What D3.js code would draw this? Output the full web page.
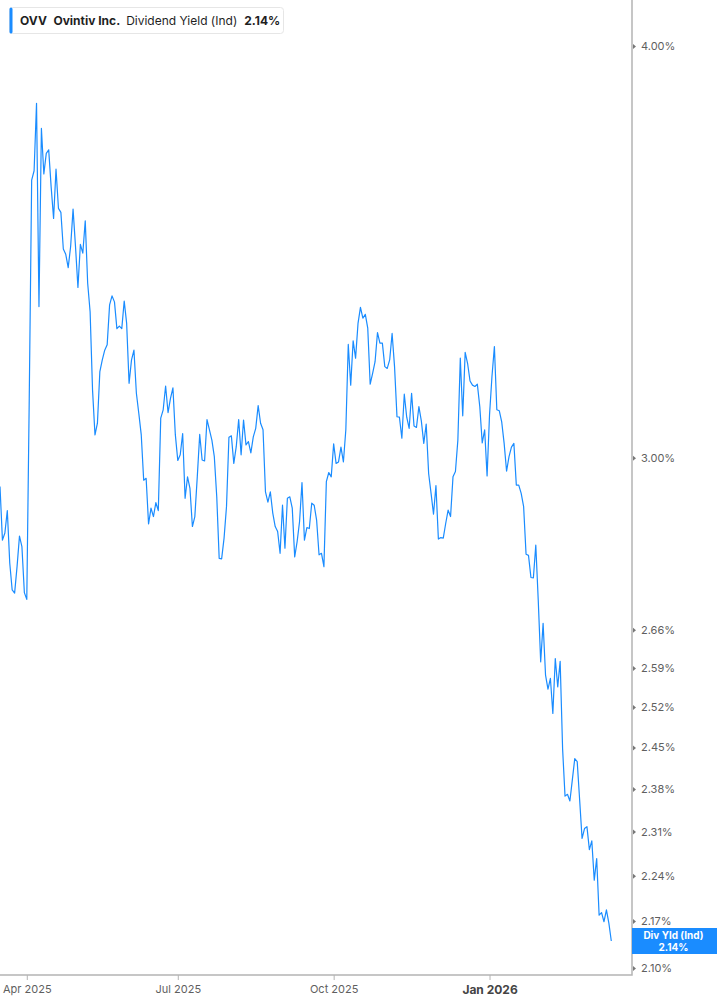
<!DOCTYPE html>
<html lang="en">
<head>
  <meta charset="UTF-8">
  <title>OVV Dividend Yield (Ind)</title>
  <script src="https://d3js.org/d3.v7.min.js"></script>
  <style>
    body { margin: 0; background: #fff; font-family: Inter, "Noto Sans", sans-serif; }
    .axis text { font-family: Inter, "Noto Sans", sans-serif; font-size: 11px; fill: #5f5f5f; }
  </style>
</head>
<body>
<div id="chart"></div>
<script>
  // trading calendar: weekdays from the first date, minus market holidays
  var START_DATE = "2025-03-17";
  var HOLIDAYS = ["2025-04-18", "2025-05-26", "2025-06-19", "2025-07-04", "2025-09-01",
    "2025-11-27", "2025-12-25", "2026-01-01", "2026-01-19", "2026-02-16"];

  // dividend yield (indicated), %, one value per trading day
  var yieldValues = [
    2.940, 2.832, 2.846, 2.891, 2.787, 2.735, 2.729, 2.780, 2.840, 2.819,
    2.730, 2.717, 3.123, 3.642, 3.666, 3.843, 3.334, 3.776, 3.658, 3.711,
    3.720, 3.625, 3.546, 3.670, 3.571, 3.561, 3.471, 3.458, 3.426, 3.477,
    3.569, 3.477, 3.379, 3.482, 3.461, 3.540, 3.389, 3.322, 3.145, 3.048,
    3.073, 3.186, 3.212, 3.234, 3.246, 3.338, 3.359, 3.345, 3.283, 3.289,
    3.283, 3.347, 3.295, 3.160, 3.212, 3.234, 3.138, 3.094, 3.048, 2.953,
    2.957, 2.864, 2.896, 2.879, 2.907, 2.891, 3.084, 3.102, 3.154, 3.096,
    3.127, 3.150, 3.048, 2.994, 3.006, 3.051, 2.916, 2.960, 2.936, 2.859,
    2.879, 2.960, 3.049, 2.995, 2.993, 3.081, 3.059, 3.037, 3.002, 2.919,
    2.796, 2.795, 2.836, 2.899, 3.043, 3.046, 2.988, 3.023, 3.081, 3.006,
    3.080, 3.027, 3.034, 3.010, 3.044, 3.062, 3.111, 3.073, 3.059, 2.929,
    2.908, 2.929, 2.886, 2.859, 2.849, 2.806, 2.902, 2.816, 2.916, 2.919,
    2.896, 2.799, 2.829, 2.869, 2.948, 2.832, 2.857, 2.855, 2.906, 2.902,
    2.872, 2.803, 2.806, 2.780, 2.950, 2.969, 2.960, 3.029, 2.988, 2.991,
    3.022, 2.991, 3.059, 3.247, 3.156, 3.255, 3.216, 3.295, 3.332, 3.307,
    3.316, 3.284, 3.158, 3.182, 3.208, 3.274, 3.250, 3.250, 3.197, 3.193,
    3.212, 3.272, 3.197, 3.087, 3.086, 3.041, 3.136, 3.086, 3.062, 3.138,
    3.067, 3.064, 3.109, 3.078, 3.030, 3.071, 2.967, 2.926, 2.884, 2.942,
    2.834, 2.837, 2.836, 2.865, 2.892, 2.879, 2.960, 2.971, 3.037, 3.216,
    3.089, 3.229, 3.204, 3.165, 3.156, 3.153, 3.158, 3.109, 3.031, 3.059,
    2.962, 3.091, 3.175, 3.242, 3.102, 3.100, 3.076, 3.030, 2.972, 3.002,
    3.022, 3.030, 2.943, 2.943, 2.926, 2.899, 2.804, 2.802, 2.759, 2.758,
    2.822, 2.716, 2.601, 2.672, 2.577, 2.552, 2.571, 2.509, 2.607, 2.556,
    2.602, 2.448, 2.368, 2.371, 2.360, 2.395, 2.431, 2.426, 2.362, 2.299,
    2.315, 2.318, 2.281, 2.295, 2.233, 2.267, 2.179, 2.183, 2.169, 2.187,
    2.167, 2.140
  ];

  var yTicks = [2.10, 2.17, 2.24, 2.31, 2.38, 2.45, 2.52, 2.59, 2.66, 3.00, 4.00];
  var xTickDates = ["2025-04-01", "2025-07-01", "2025-10-01", "2026-01-02"];
  var xTickLabels = ["Apr 2025", "Jul 2025", "Oct 2025", "Jan 2026"];

  var TICKER = "OVV", COMPANY = "Ovintiv Inc.", METRIC = "Dividend Yield (Ind)", METRIC_SHORT = "Div Yld (Ind)";

  var WIDTH = 717, HEIGHT = 1005,
    PLOT_W = 632, PLOT_H = 975,
    BLUE = "#1a8cff", AXIS = "#b4b4b4";

  var parseDate = d3.timeParse("%Y-%m-%d"),
    fmtDate = d3.timeFormat("%Y-%m-%d");

  var tradingDays = [];
  var day = parseDate(START_DATE);
  while (tradingDays.length < yieldValues.length) {
    var wd = day.getDay();
    if (wd !== 0 && wd !== 6 && HOLIDAYS.indexOf(fmtDate(day)) === -1) {
      tradingDays.push(fmtDate(day));
    }
    day = d3.timeDay.offset(day, 1);
  }

  var data = yieldValues.map(function (v, i) {
    return {date: tradingDays[i], i: i, value: v};
  });
  var last = data[data.length - 1];
  var fmtPct = function (v) { return v.toFixed(2) + "%"; };

  var xScale = d3.scaleLinear()
    .domain([0, data.length - 1 + 8.5])
    .range([0, PLOT_W]);
  var yScale = d3.scaleLog()
    .domain([2.10, 4.00])
    .range([968, 46]);

  var svg = d3.select("#chart").append("svg")
    .attr("width", WIDTH)
    .attr("height", HEIGHT);

  svg.append("clipPath").attr("id", "plotClip")
    .append("rect").attr("x", 0).attr("y", 0).attr("width", PLOT_W).attr("height", PLOT_H);

  // line
  var line = d3.line()
    .x(function (d) { return xScale(d.i); })
    .y(function (d) { return yScale(d.value); });

  svg.append("path")
    .datum(data)
    .attr("clip-path", "url(#plotClip)")
    .attr("fill", "none")
    .attr("stroke", BLUE)
    .attr("stroke-width", 1.2)
    .attr("stroke-linejoin", "round")
    .attr("d", line);

  // frame (right + bottom)
  svg.append("path")
    .attr("d", "M" + PLOT_W + ",0V" + PLOT_H + "H0")
    .attr("fill", "none")
    .attr("stroke", AXIS)
    .attr("stroke-width", 1.5);

  // y axis on the right
  var yAxis = svg.append("g")
    .attr("class", "axis")
    .attr("transform", "translate(" + PLOT_W + ",0)")
    .call(d3.axisRight(yScale).tickValues(yTicks).tickFormat(fmtPct).tickSize(0).tickPadding(9));
  yAxis.select(".domain").remove();
  yAxis.selectAll(".tick").append("path")
    .attr("d", "M1,-2.5L4,0L1,2.5Z")
    .attr("fill", "#777");

  // x axis
  var tickIdx = xTickDates.map(function (t) { return tradingDays.indexOf(t); });
  var xAxis = svg.append("g")
    .attr("class", "axis")
    .attr("transform", "translate(0," + PLOT_H + ")")
    .call(d3.axisBottom(xScale).tickValues(tickIdx)
      .tickFormat(function (d, i) { return xTickLabels[i]; })
      .tickSize(5).tickPadding(5));
  xAxis.select(".domain").remove();
  xAxis.selectAll(".tick line").attr("stroke", AXIS);
  xAxis.selectAll(".tick text")
    .style("font-size", function (d, i) { return xTickLabels[i].indexOf("Jan") === 0 ? "12px" : "11px"; })
    .style("font-weight", function (d, i) { return xTickLabels[i].indexOf("Jan") === 0 ? "700" : "400"; })
    .style("fill", function (d, i) { return xTickLabels[i].indexOf("Jan") === 0 ? "#444" : "#5f5f5f"; });

  // last value flag on the axis
  var flagY = yScale(last.value);
  var flagX = PLOT_W + (WIDTH - PLOT_W) / 2 - 1;
  var flag = svg.append("g");
  flag.append("rect")
    .attr("x", PLOT_W).attr("y", flagY - 13)
    .attr("width", WIDTH - PLOT_W).attr("height", 26)
    .attr("fill", BLUE);
  flag.append("text")
    .attr("x", flagX).attr("y", flagY - 2.5)
    .attr("text-anchor", "middle")
    .style("font-size", "10px").style("font-weight", "700").style("fill", "#fff")
    .text(METRIC_SHORT);
  flag.append("text")
    .attr("x", flagX).attr("y", flagY + 9.5)
    .attr("text-anchor", "middle")
    .style("font-size", "10px").style("font-weight", "700").style("fill", "#fff")
    .text(fmtPct(last.value));

  // legend header
  var legend = svg.append("g");
  legend.append("rect")
    .attr("x", 9.5).attr("y", 7.5).attr("width", 274).attr("height", 26).attr("rx", 3)
    .attr("fill", "#fff").attr("stroke", "#e6e6e6");
  legend.append("rect")
    .attr("x", 9.5).attr("y", 7.5).attr("width", 3).attr("height", 26).attr("rx", 1.5)
    .attr("fill", BLUE);
  var lt = legend.append("text")
    .attr("x", 20).attr("y", 25)
    .style("font-size", "12px").style("fill", "#1f1f1f");
  lt.append("tspan").style("font-weight", "700").text(TICKER);
  lt.append("tspan").attr("dx", 7).style("font-weight", "700").text(COMPANY);
  lt.append("tspan").attr("dx", 6).style("font-weight", "400").text(METRIC);
  lt.append("tspan").attr("dx", 7).style("font-weight", "700").text(fmtPct(last.value));
</script>
</body>
</html>
